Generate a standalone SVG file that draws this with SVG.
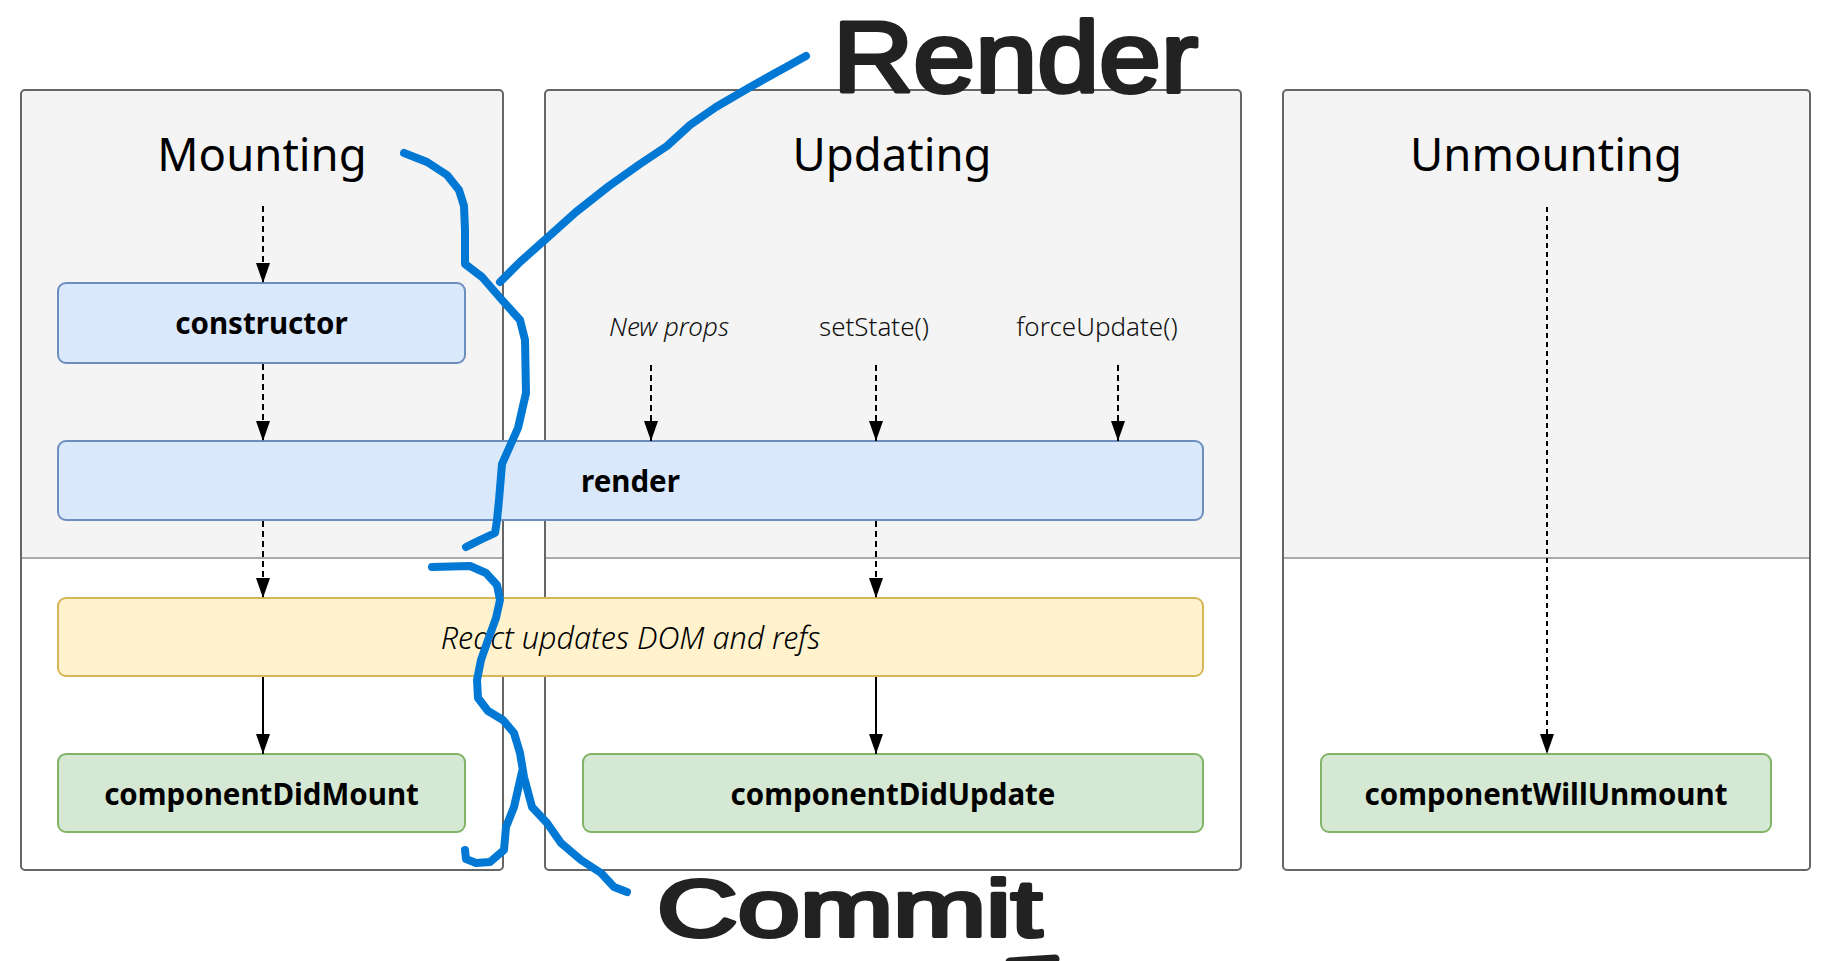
<svg xmlns="http://www.w3.org/2000/svg" width="1831" height="961" viewBox="0 0 1831 961">
<style>
.panel{fill:none;stroke:#666;stroke-width:2}
.top{fill:#f4f4f4}
.div{stroke:#aaa;stroke-width:2}
.title{font-family:"Noto Sans","Open Sans",sans-serif;font-size:45.5px;fill:#000;text-anchor:middle}
.blue{fill:#dae8fc;stroke:#6c8ebf;stroke-width:2}
.yel{fill:#fff2cc;stroke:#d6b656;stroke-width:2}
.grn{fill:#d5e8d4;stroke:#82b366;stroke-width:2}
.lbl{font-family:"Noto Sans","Open Sans",sans-serif;font-size:29.5px;font-weight:bold;fill:#000;text-anchor:middle}
.sm{font-family:"Noto Sans","Open Sans",sans-serif;font-size:26px;font-weight:300;fill:#111;text-anchor:middle}
.it{font-style:italic}
.dash{stroke:#000;stroke-width:2;stroke-dasharray:6 4;fill:none}
.solid{stroke:#000;stroke-width:2;fill:none}
.ink{fill:none;stroke:#0078d4;stroke-width:8;stroke-linecap:round;stroke-linejoin:round}
.hand{font-family:"Liberation Sans",Arial,sans-serif;fill:#222;stroke:#222;stroke-width:4;stroke-linejoin:round}
</style>
<defs>
<marker id="ah" viewBox="0 0 20 14" refX="20" refY="7" markerWidth="20" markerHeight="14" markerUnits="userSpaceOnUse" orient="auto">
<path d="M0,0 L20,7 L0,14 z" fill="#000"/>
</marker>
</defs>

<g id="panel-mounting">
<rect x="21" y="90" width="482" height="468" class="top"/>
<line x1="21" y1="558" x2="503" y2="558" class="div"/>
<rect x="21" y="90" width="482" height="780" rx="4" class="panel"/>
<text x="262" y="171" class="title">Mounting</text>
</g>
<g id="panel-updating">
<rect x="545" y="90" width="696" height="468" class="top"/>
<line x1="545" y1="558" x2="1241" y2="558" class="div"/>
<rect x="545" y="90" width="696" height="780" rx="4" class="panel"/>
<text x="892" y="171" class="title">Updating</text>
<text x="669" y="336" class="sm it">New props</text>
<text x="874" y="336" class="sm">setState()</text>
<text x="1097" y="336" class="sm">forceUpdate()</text>
</g>
<g id="panel-unmounting">
<rect x="1283" y="90" width="527" height="468" class="top"/>
<line x1="1283" y1="558" x2="1810" y2="558" class="div"/>
<rect x="1283" y="90" width="527" height="780" rx="4" class="panel"/>
<text x="1546" y="171" class="title">Unmounting</text>
</g>

<g id="node-constructor">
<rect x="58" y="283" width="407" height="80" rx="8" class="blue"/>
<text x="261.5" y="334" class="lbl">constructor</text>
</g>
<g id="node-render">
<rect x="58" y="441" width="1145" height="79" rx="8" class="blue"/>
<text x="630.5" y="492" class="lbl">render</text>
</g>
<g id="node-react-updates">
<rect x="58" y="598" width="1145" height="78" rx="8" class="yel"/>
<text x="630.5" y="649" class="lbl it" style="font-weight:300;font-size:30.5px">React updates DOM and refs</text>
</g>
<g id="node-componentDidMount">
<rect x="58" y="754" width="407" height="78" rx="8" class="grn"/>
<text x="261.5" y="805" class="lbl">componentDidMount</text>
</g>
<g id="node-componentDidUpdate">
<rect x="583" y="754" width="620" height="78" rx="8" class="grn"/>
<text x="893" y="805" class="lbl">componentDidUpdate</text>
</g>
<g id="node-componentWillUnmount">
<rect x="1321" y="754" width="450" height="78" rx="8" class="grn"/>
<text x="1546" y="805" class="lbl">componentWillUnmount</text>
</g>

<g id="connectors">
<line x1="263" y1="206" x2="263" y2="283" class="dash" marker-end="url(#ah)"/>
<line x1="263" y1="364" x2="263" y2="441" class="dash" marker-end="url(#ah)"/>
<line x1="263" y1="521" x2="263" y2="598" class="dash" marker-end="url(#ah)"/>
<line x1="263" y1="677" x2="263" y2="754" class="solid" marker-end="url(#ah)"/>
<line x1="651" y1="365" x2="651" y2="441" class="dash" marker-end="url(#ah)"/>
<line x1="876" y1="365" x2="876" y2="441" class="dash" marker-end="url(#ah)"/>
<line x1="1118" y1="365" x2="1118" y2="441" class="dash" marker-end="url(#ah)"/>
<line x1="876" y1="521" x2="876" y2="598" class="dash" marker-end="url(#ah)"/>
<line x1="876" y1="677" x2="876" y2="754" class="solid" marker-end="url(#ah)"/>
<line x1="1547" y1="207" x2="1547" y2="754" class="dash" style="stroke-dasharray:5 4" marker-end="url(#ah)"/>
</g>

<g id="ink-annotations">
<polyline class="ink" points="404,153 427,162 447,175 459,190 464,206 465,230 465,264 482,277 502,300 520,320 525,340 526,393 518,428 502,464 499,500 497,520 495,533 480,540 466,547"/>
<polyline class="ink" points="806,56 788,66 752,86 716,107 690,125 667,146 640,164 609,186 576,212 547,238 520,262 500,282"/>
<polyline class="ink" points="432,567 470,566 486,573 497,585 500,600 496,618 488,640 481,660 477,680 478,698 488,711 503,720 514,733 520,753 524,777 532,807 547,823 561,843 581,860 601,873 614,887 627,892"/>
<polyline class="ink" points="522,772 514,807 506,827 504,850 490,862 476,863 466,859 465,850"/>
<text x="833" y="92" class="hand" font-size="100" textLength="365" lengthAdjust="spacingAndGlyphs">Render</text>
<text x="657" y="936" class="hand" font-size="80" textLength="385" lengthAdjust="spacingAndGlyphs">Commit</text>
<line x1="1010" y1="962" x2="1055" y2="959" stroke="#222" stroke-width="9" stroke-linecap="round"/>
</g>
</svg>
